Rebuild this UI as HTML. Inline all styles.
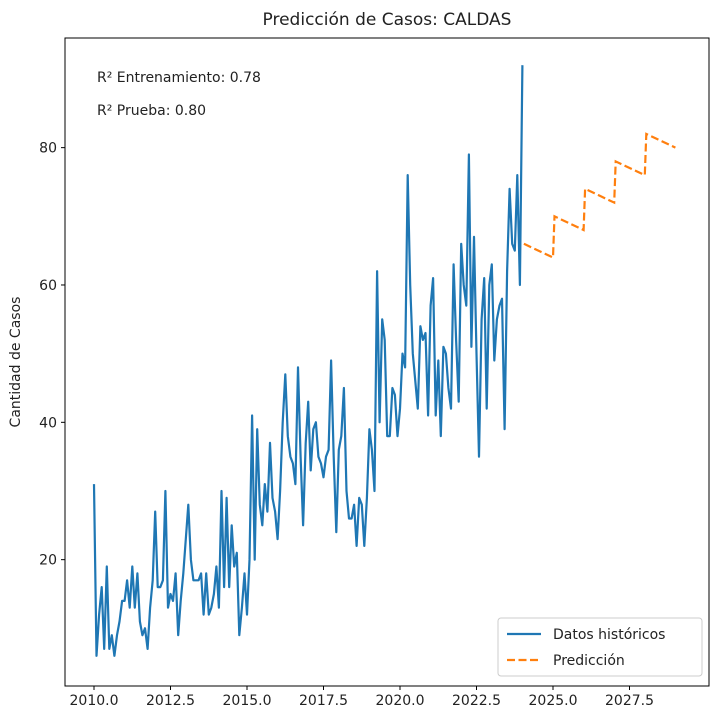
<!DOCTYPE html>
<html><head><meta charset="utf-8"><style>
body{margin:0;background:#fff;font-family:"Liberation Sans","DejaVu Sans",sans-serif}
svg text{font-family:"DejaVu Sans","Liberation Sans",sans-serif;fill:#222}
</style></head><body>
<svg id="c" width="723" height="715"></svg>
<script>
const histValues=[31,6,12,16,7,19,7,9,6,9,11,14,
14,17,13,19,13,18,11,9,10,7,13,17,
27,16,16,17,30,13,15,14,18,9,14,18,
23,28,20,17,17,17,18,12,18,12,13,15,
19,13,30,16,29,16,25,19,21,9,13,18,
12,20,41,20,39,28,25,31,27,37,29,27,
23,30,40,47,38,35,34,31,48,35,25,37,
43,33,39,40,35,34,32,35,36,49,35,24,
36,38,45,30,26,26,28,22,29,28,22,29,
39,36,30,62,40,55,52,38,38,45,44,38,
42,50,48,76,60,50,46,42,54,52,53,41,
57,61,41,49,38,51,50,45,42,63,52,43,
66,60,57,79,51,67,50,35,55,61,42,60,
63,49,55,57,58,39,62,74,66,65,76,60,92];
const histStart=2010;
const predYears=[2024.05,2025,2025.05,2026,2026.05,2027,2027.05,2028,2028.05,2029];
const predValues=[66,64,70,68,74,72,78,76,82,80];
const xTicks=[2010,2012.5,2015,2017.5,2020,2022.5,2025,2027.5];
const xTickLabels=["2010.0","2012.5","2015.0","2017.5","2020.0","2022.5","2025.0","2027.5"];
const yTicks=[20,40,60,80];

const svg=document.getElementById('c');const NS='http://www.w3.org/2000/svg';
const L=65,R=709,T=38,B=686;
const xs=v=>94+(v-2010)*30.6;
const ys=v=>697-v*6.867;
function mk(tag,attrs,parent){const e=document.createElementNS(NS,tag);for(const k in attrs)e.setAttribute(k,attrs[k]);(parent||svg).appendChild(e);return e;}
const frame=mk('rect',{x:L,y:T,width:R-L,height:B-T,fill:'none',stroke:'#000','stroke-width':1});


xTicks.forEach((t,i)=>{const x=xs(t);
const l=mk('line',{x1:x,x2:x,y1:B,y2:B+4,stroke:'#000'});


const tx=mk('text',{x:x,y:B+19,'text-anchor':'middle','font-size':14});tx.textContent=xTickLabels[i];

});
yTicks.forEach(t=>{const y=ys(t);
const l=mk('line',{x1:L-4,x2:L,y1:y,y2:y,stroke:'#000'});


const tx=mk('text',{x:L-8,y:y+5,'text-anchor':'end','font-size':14});tx.textContent=t;

});
const hp=histValues.map((v,i)=>xs(histStart+i/12).toFixed(1)+','+ys(v).toFixed(1)).join(' ');
const hl=mk('polyline',{points:hp,fill:'none',stroke:'#1f77b4','stroke-width':2.2,'stroke-linejoin':'round'});


const pp=predValues.map((v,i)=>xs(predYears[i]).toFixed(1)+','+ys(v).toFixed(1)).join(' ');
const pl=mk('polyline',{points:pp,fill:'none',stroke:'#ff7f0e','stroke-width':2.2,'stroke-dasharray':'8,3.5'});


</script>
<svg width="723" height="715" style="position:absolute;left:0;top:0">
<text x="387" y="25" text-anchor="middle" font-size="17">Predicción de Casos: CALDAS</text>
<text x="20" y="362" text-anchor="middle" font-size="14" transform="rotate(-90 20 362)">Cantidad de Casos</text>
<text x="97" y="82" font-size="14">R² Entrenamiento: 0.78</text>
<text x="97" y="115" font-size="14">R² Prueba: 0.80</text>
<g>
<rect x="498" y="618" width="204" height="58" rx="3" fill="#fff" stroke="#ccc"/>
<line x1="507" x2="541" y1="634" y2="634" stroke="#1f77b4" stroke-width="2.2"/>
<text x="553" y="639" font-size="14">Datos históricos</text>
<line x1="507" x2="541" y1="660" y2="660" stroke="#ff7f0e" stroke-width="2.2" stroke-dasharray="8,3.5"/>
<text x="553" y="665" font-size="14">Predicción</text>
</g>
</svg>
</body></html>
